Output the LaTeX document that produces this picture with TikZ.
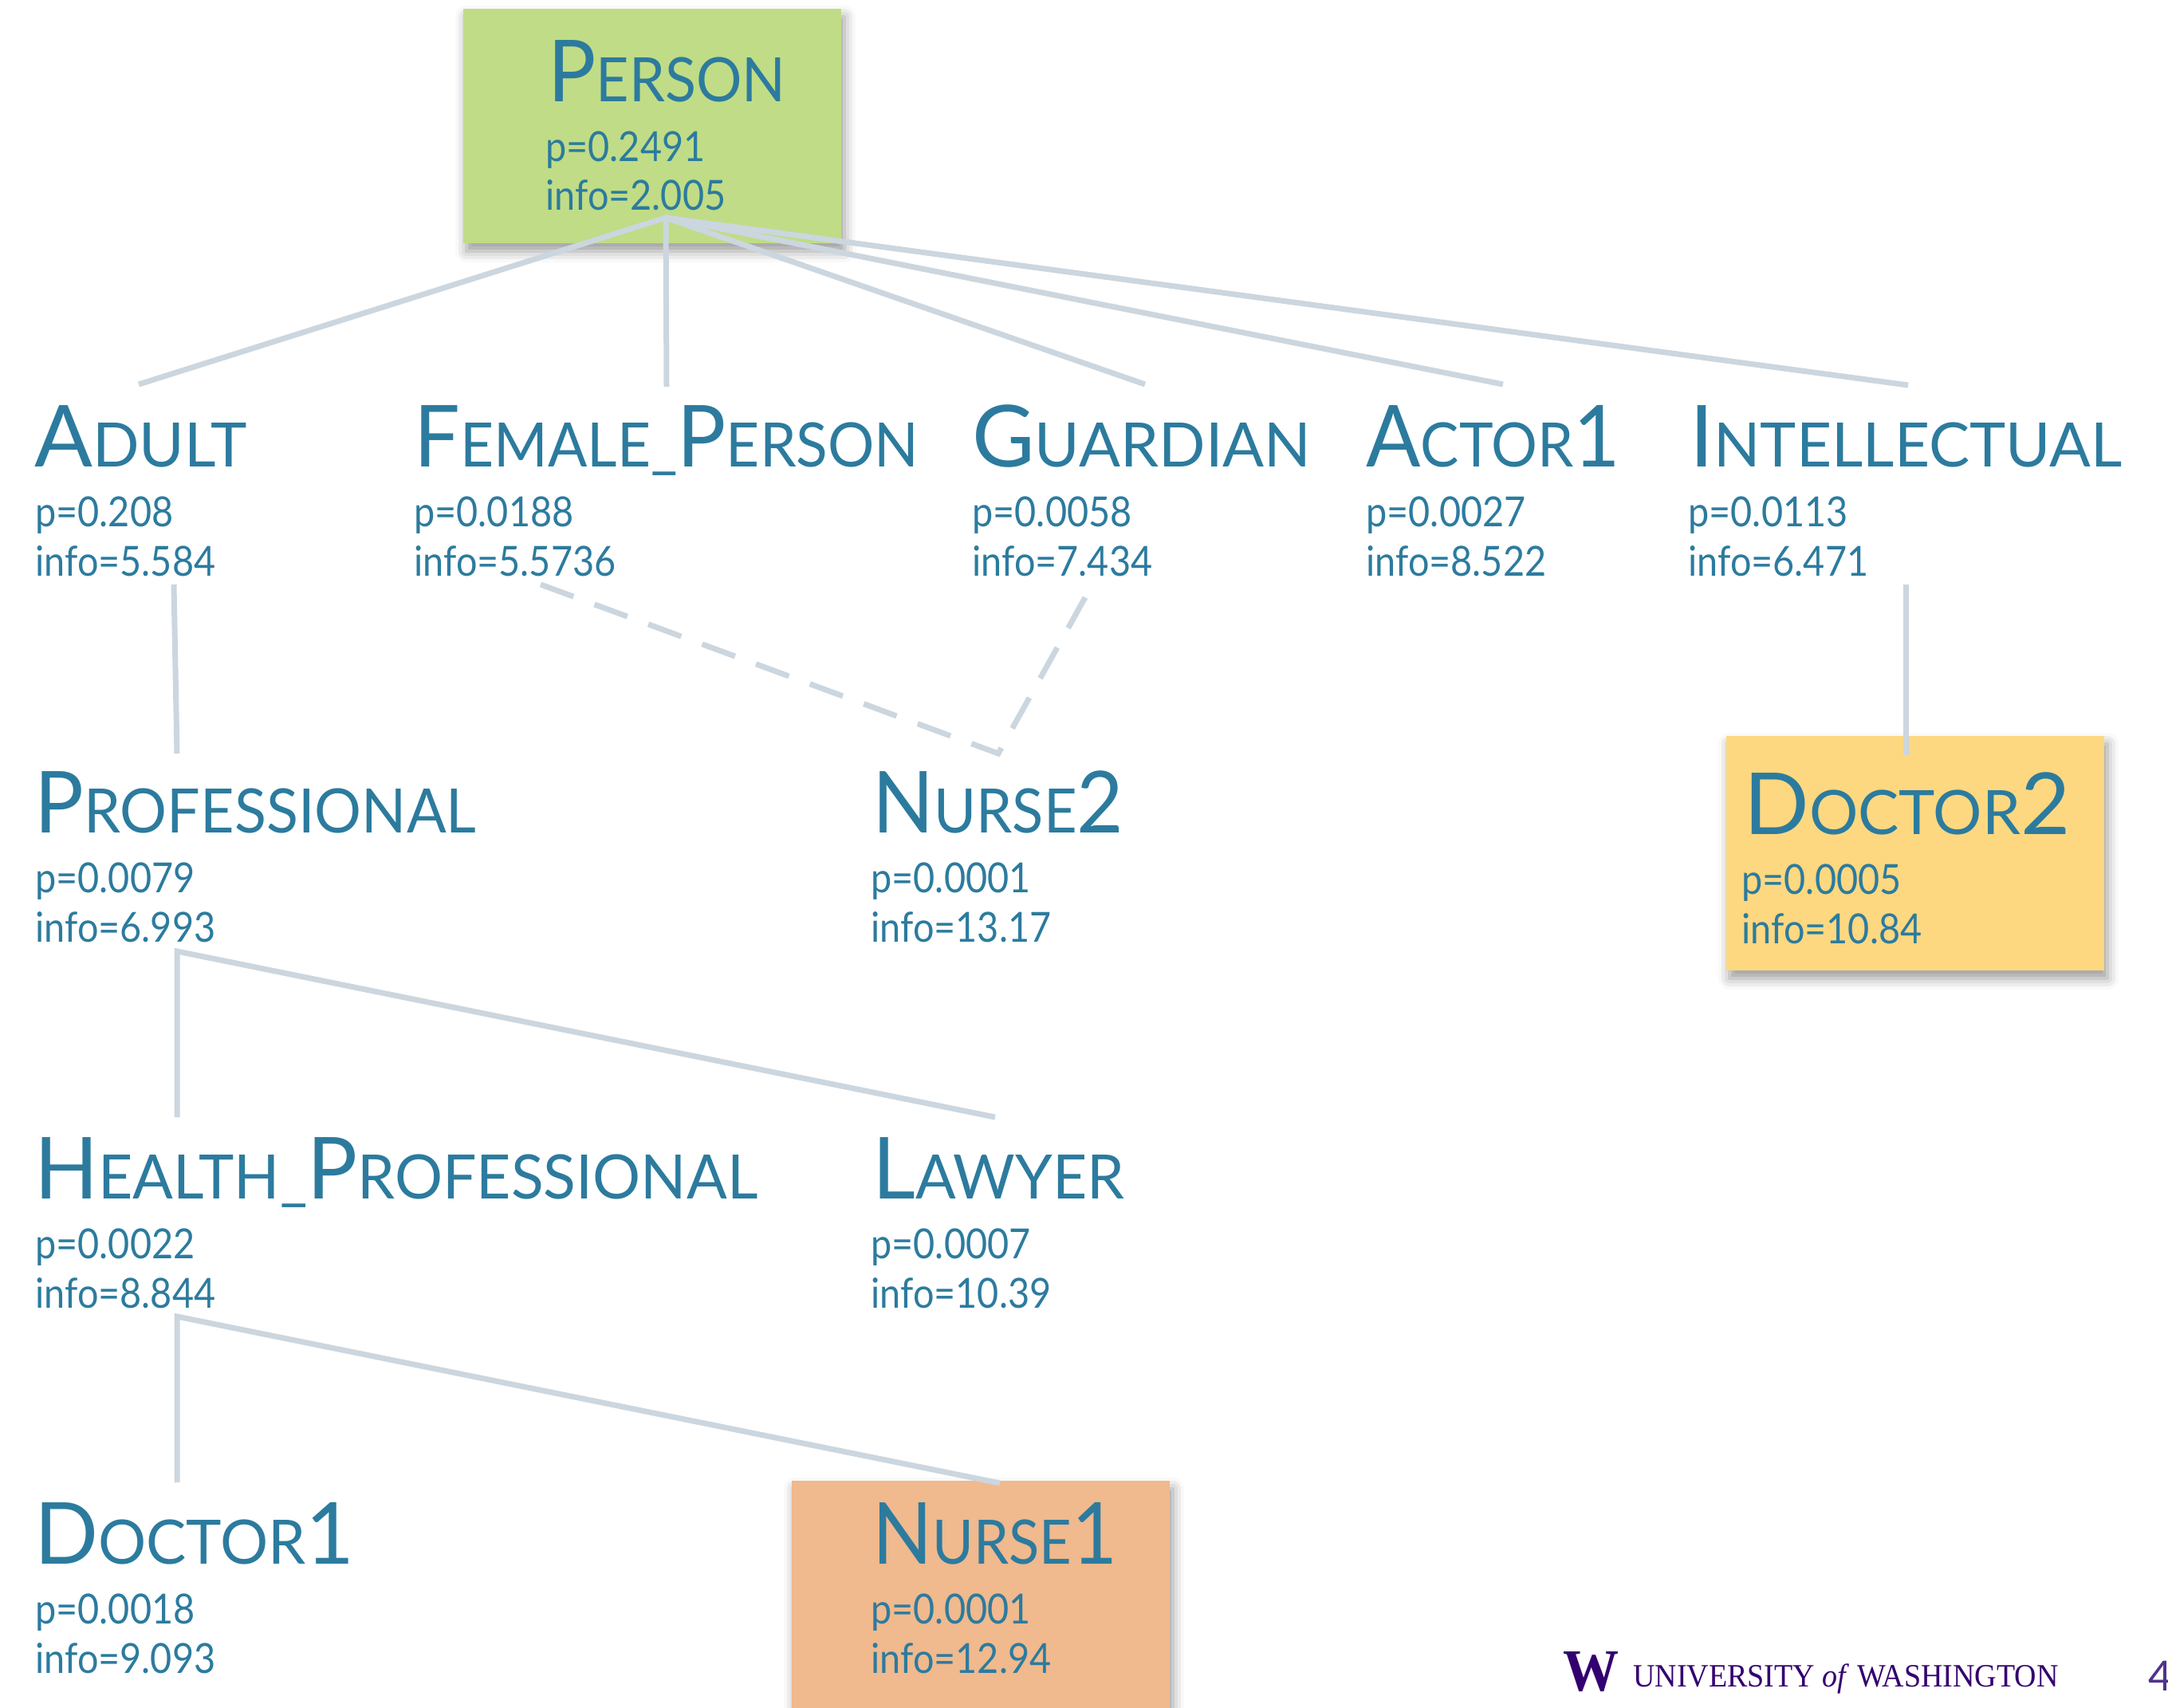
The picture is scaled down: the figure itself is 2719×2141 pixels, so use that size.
\documentclass[tikz,border=0pt]{standalone}
\usepackage{fontspec}
\setmainfont{Lato}
\newfontfamily\uwfont{Liberation Serif}
\usepackage{graphicx}
\usetikzlibrary{shadows.blur}
\definecolor{txt}{RGB}{44,123,158}
\definecolor{edgec}{RGB}{203,214,223}
\definecolor{gbox}{RGB}{192,220,134}
\definecolor{ybox}{RGB}{253,216,129}
\definecolor{obox}{RGB}{240,185,142}
\definecolor{uwpurple}{RGB}{51,0,111}
\definecolor{uwlight}{RGB}{80,50,140}
\newsavebox\ttlbox
\newcommand\ttl[2]{\sbox\ttlbox{#2}\pgfmathsetmacro\fx{#1*0.5/\the\wd\ttlbox}\scalebox{\fx}[1]{\usebox\ttlbox}}
\newcommand\tbig[1]{{\fontsize{53.7pt}{60pt}\selectfont #1}}
\newcommand\tsm[1]{{\fontsize{38.4pt}{44pt}\selectfont #1}}
\newcommand\bx[1]{\scalebox{0.9}[1]{#1}}
\tikzset{
  tx/.style={text=txt, inner sep=0pt, anchor=base west},
  bd/.style={text=txt, inner sep=0pt, anchor=base west, font=\fontsize{26pt}{30pt}\selectfont},
  link/.style={draw=edgec, line width=3.5pt},
  dlink/.style={link, dash pattern=on 22pt off 14pt},
  cbox/.style={draw=none, minimum width=237pt, minimum height=147pt, inner sep=0pt,
    blur shadow={shadow xshift=2pt, shadow yshift=-5pt, shadow blur radius=7pt, shadow opacity=40}},
}
\begin{document}
\begin{tikzpicture}[x=0.5pt, y=-0.5pt]
\useasboundingbox (0,0) rectangle (2719,2141);
\clip (0,0) rectangle (2719,2141);
% boxes
\node[cbox, fill=gbox] (boxPerson) at (818,158) {};
\node[cbox, fill=ybox] (boxDoctor2) at (2402,1070) {};
\node[cbox, fill=obox] (boxNurse1) at (1230,2004) {};
% connector points
\coordinate (hubPerson) at (835,273);
\coordinate (topAdult) at (174,482);
\coordinate (topFemale) at (836,485);
\coordinate (topGuardian) at (1436,482);
\coordinate (topActor) at (1885,482);
\coordinate (topIntel) at (2393,483);
\coordinate (botAdult) at (218,733);
\coordinate (topProf) at (222,945);
\coordinate (botFemale) at (678,733);
\coordinate (botGuardian) at (1370,733);
\coordinate (topNurse2) at (1252,945);
\coordinate (botIntel) at (2390,733);
\coordinate (topDoctor2) at (2390,947);
\coordinate (hubProf) at (222,1193);
\coordinate (topHealth) at (222,1401);
\coordinate (topLawyer) at (1248,1401);
\coordinate (hubHealth) at (222,1651);
\coordinate (topDoctor1) at (222,1859);
\coordinate (topNurse1) at (1254,1860);
% connectors
\draw[link] (topAdult) -- (hubPerson) -- (topFemale);
\draw[link] (hubPerson) -- (topGuardian);
\draw[link] (hubPerson) -- (topActor);
\draw[link] (hubPerson) -- (topIntel);
\draw[link] (botAdult) -- (topProf);
\draw[dlink] (botFemale) -- (topNurse2) -- (botGuardian);
\draw[link] (botIntel) -- (topDoctor2);
\draw[link] (topHealth) -- (hubProf) -- (topLawyer);
\draw[link] (topDoctor1) -- (hubHealth) -- (topNurse1);
% texts
\node[tx] (person) at (687,127) {\ttl{298}{\tbig{P}\tsm{ERSON}}};
\node[bd] (personP) at (684,202) {\bx{p=0.2491}};
\node[bd] (personI) at (684,263) {\bx{info=2.005}};

\node[tx] (adult) at (43,585) {\ttl{266}{\tbig{A}\tsm{DULT}}};
\node[bd] (adultP) at (44,660) {\bx{p=0.208}};
\node[bd] (adultI) at (44,722) {\bx{info=5.584}};

\node[tx] (female) at (519,585) {\ttl{633}{\tbig{F}\tsm{EMALE\_}\tbig{P}\tsm{ERSON}}};
\node[bd] (femaleP) at (519,660) {\bx{p=0.0188}};
\node[bd] (femaleI) at (519,722) {\bx{info=5.5736}};

\node[tx] (guardian) at (1219,585) {\ttl{425}{\tbig{G}\tsm{UARDIAN}}};
\node[bd] (guardianP) at (1219,660) {\bx{p=0.0058}};
\node[bd] (guardianI) at (1219,722) {\bx{info=7.434}};

\node[tx] (actor) at (1713,585) {\ttl{319}{\tbig{A}\tsm{CTOR}\tbig{1}}};
\node[bd] (actorP) at (1713,660) {\bx{p=0.0027}};
\node[bd] (actorI) at (1713,722) {\bx{info=8.522}};

\node[tx] (intel) at (2119,585) {\ttl{542}{\tbig{I}\tsm{NTELLECTUAL}}};
\node[bd] (intelP) at (2117,660) {\bx{p=0.0113}};
\node[bd] (intelI) at (2117,722) {\bx{info=6.471}};

\node[tx] (prof) at (43,1044) {\ttl{554}{\tbig{P}\tsm{ROFESSIONAL}}};
\node[bd] (profP) at (44,1119) {\bx{p=0.0079}};
\node[bd] (profI) at (44,1181) {\bx{info=6.993}};

\node[tx] (nurse2) at (1094,1044) {\ttl{315}{\tbig{N}\tsm{URSE}\tbig{2}}};
\node[bd] (nurse2P) at (1092,1119) {\bx{p=0.0001}};
\node[bd] (nurse2I) at (1092,1181) {\bx{info=13.17}};

\node[tx] (doctor2) at (2187,1046) {\ttl{409}{\tbig{D}\tsm{OCTOR}\tbig{2}}};
\node[bd] (doctor2P) at (2184,1121) {\bx{p=0.0005}};
\node[bd] (doctor2I) at (2184,1183) {\bx{info=10.84}};

\node[tx] (health) at (43,1503) {\ttl{907}{\tbig{H}\tsm{EALTH\_}\tbig{P}\tsm{ROFESSIONAL}}};
\node[bd] (healthP) at (44,1578) {\bx{p=0.0022}};
\node[bd] (healthI) at (44,1640) {\bx{info=8.844}};

\node[tx] (lawyer) at (1094,1503) {\ttl{316}{\tbig{L}\tsm{AWYER}}};
\node[bd] (lawyerP) at (1092,1578) {\bx{p=0.0007}};
\node[bd] (lawyerI) at (1092,1640) {\bx{info=10.39}};

\node[tx] (doctor1) at (43,1961) {\ttl{401}{\tbig{D}\tsm{OCTOR}\tbig{1}}};
\node[bd] (doctor1P) at (44,2036) {\bx{p=0.0018}};
\node[bd] (doctor1I) at (44,2098) {\bx{info=9.093}};

\node[tx] (nurse1) at (1094,1961) {\ttl{307}{\tbig{N}\tsm{URSE}\tbig{1}}};
\node[bd] (nurse1P) at (1092,2036) {\bx{p=0.0001}};
\node[bd] (nurse1I) at (1092,2098) {\bx{info=12.94}};
% logo
\node[anchor=south west, inner sep=0pt, text=uwpurple] (uwW) at (1960,2122) {\resizebox{35pt}{24.5pt}{\uwfont\bfseries W}};
\node[anchor=base west, inner sep=0pt, text=uwpurple] (uwText) at (2048,2115) {\ttl{533}{\uwfont\fontsize{20.4pt}{22pt}\selectfont UNIVERSITY \textit{of} WASHINGTON}};
\node[anchor=base west, inner sep=0pt, text=uwlight, font=\fontsize{26pt}{30pt}\selectfont] (pageNum) at (2694,2120) {4};
\end{tikzpicture}
\end{document}
